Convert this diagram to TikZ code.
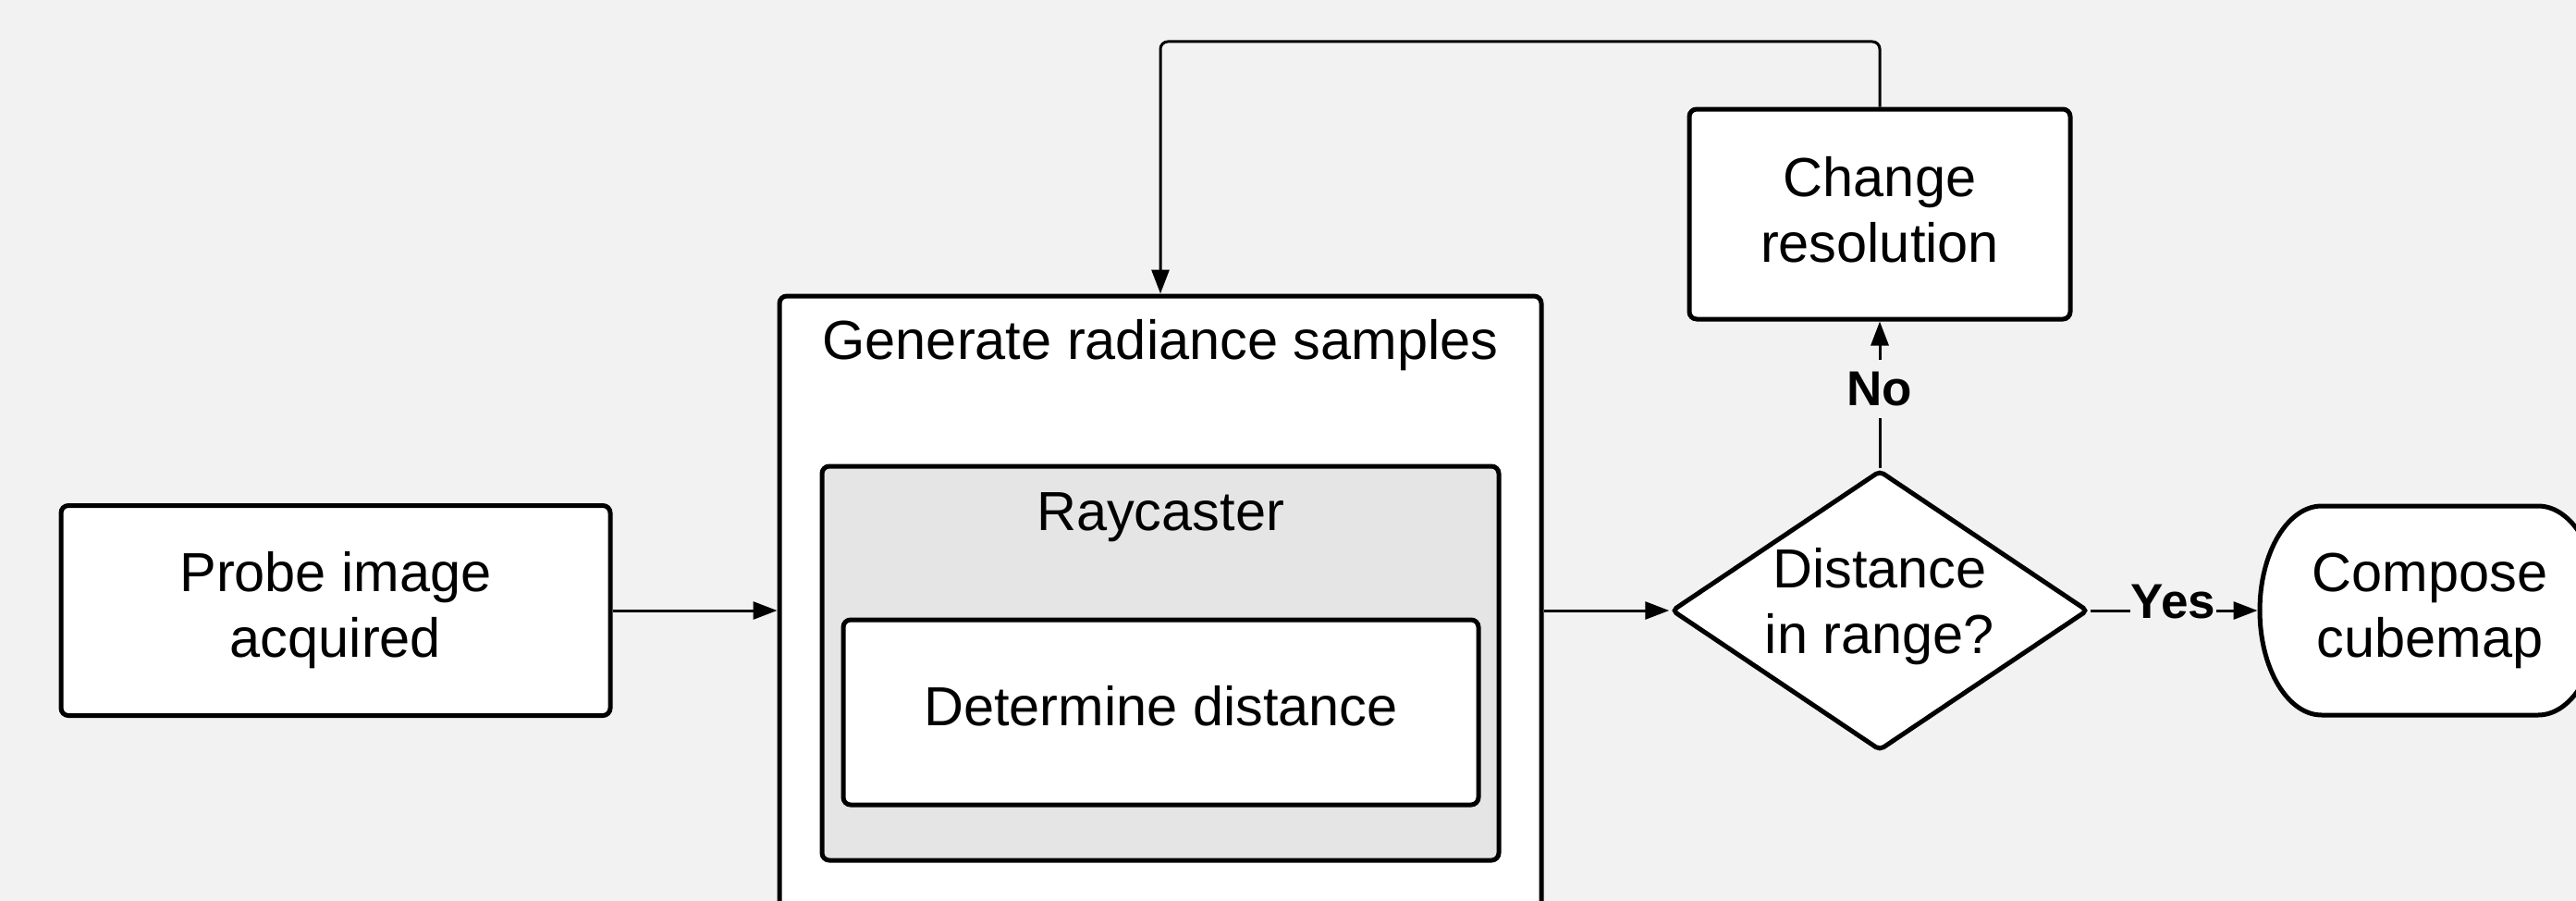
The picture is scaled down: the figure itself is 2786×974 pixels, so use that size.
\documentclass[tikz,border=0pt]{standalone}
\usepackage{fontspec}
\setmainfont{Liberation Sans}
\usetikzlibrary{arrows.meta,shapes.geometric}
\definecolor{bg}{HTML}{F2F2F2}
\definecolor{rayfill}{HTML}{E5E5E5}
\begin{document}
\begin{tikzpicture}[x=1pt,y=-1pt,
  box/.style={draw,line width=5pt,rounded corners=8pt,fill=white,align=center,
    font=\fontsize{59.5}{71}\selectfont,inner sep=0pt},
  txt/.style={font=\fontsize{59.5}{71}\selectfont,inner sep=0pt,anchor=base},
  conn/.style={line width=3pt,-{Triangle[length=26pt,width=19pt]}},
  lbl/.style={font=\bfseries\fontsize{53}{60}\selectfont,fill=bg,inner xsep=1pt,inner ysep=13pt}]
\useasboundingbox (0,0) rectangle (2786,974);
\fill[bg] (0,0) rectangle (2786,974);
\clip (0,0) rectangle (2786,974);

% nodes
\node[box,minimum width=594pt,minimum height=227pt] (prb) at (363,660) {Probe image\\acquired};
\node[box,minimum width=824pt,minimum height=680pt] (gen) at (1255,660) {};
\node[txt] (gentitle) at (1255,388) {Generate radiance samples};
\node[box,fill=rayfill,minimum width=732pt,minimum height=426pt] (ray) at (1255,717) {};
\node[txt] (raytitle) at (1255,573) {Raycaster};
\node[box,minimum width=687pt,minimum height=200pt,text height=43pt,text depth=14pt] (det) at (1255.5,770) {Determine distance};
\node[box,diamond,aspect=1.487,minimum width=449pt,minimum height=302pt,rounded corners=5pt] (dec) at (2033,660) {Distance\\in range?\rule[-22pt]{0pt}{22pt}};
\node[box,minimum width=412pt,minimum height=227pt] (chg) at (2033,231.5) {Change\\resolution\rule[-10pt]{0pt}{10pt}};
% compose (stadium with elliptic ends)
\draw[line width=5pt,fill=white] (2511,547) -- (2745,547)
   arc[start angle=90,end angle=-90,x radius=67pt,y radius=113pt]
   -- (2511,773)
   arc[start angle=270,end angle=90,x radius=67pt,y radius=113pt] -- cycle;
\node[box,draw=none,fill=none,minimum width=368pt,minimum height=226pt] (comp) at (2628,660) {Compose\\cubemap};

% connectors
\coordinate (fbtop) at (0,45);
\draw[conn] (prb.east) -- (gen.west);
\draw[conn] (gen.east) -- (dec.west);
\draw[conn] (dec.north) -- node[lbl,pos=0.54]{No} (chg.south);
\draw[conn] (dec.east) -- node[lbl,pos=0.495,text height=38pt,text depth=22pt]{Yes} (comp.west);
\draw[conn,rounded corners=8pt] (chg.north) -- (chg.north |- fbtop) -| (gen.north);
\end{tikzpicture}
\end{document}
